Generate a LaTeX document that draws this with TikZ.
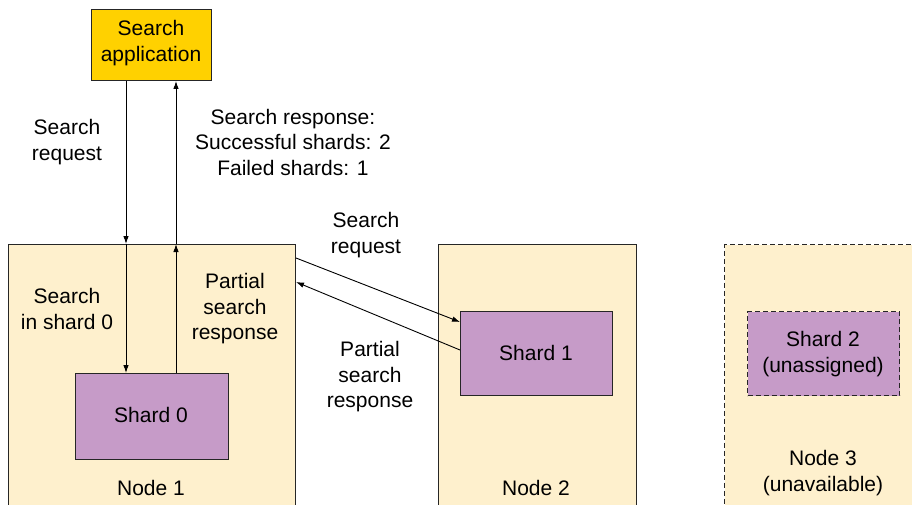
\documentclass[tikz,border=0pt]{standalone}
\usepackage{fontspec}
\setmainfont{Liberation Sans}
\usetikzlibrary{arrows.meta}
\definecolor{appyellow}{HTML}{FFD100}
\definecolor{nodefill}{HTML}{FEF0CD}
\definecolor{shardfill}{HTML}{C69BC8}
\definecolor{edge}{HTML}{262626}
\tikzset{
  box/.style={draw=edge, line width=1pt, inner sep=0pt, anchor=north west},
  hostbox/.style={box, fill=nodefill},
  shardbox/.style={box, fill=shardfill, align=center},
  dashedbox/.style={dash pattern=on 5pt off 3pt, line width=1.1pt},
  lbl/.style={align=center, inner sep=0pt, font=\fontsize{21}{25.5}\selectfont},
  arr/.style={line width=0.9pt, draw=black, -{Latex[length=8pt,width=5.5pt]}}
}
\begin{document}
\begin{tikzpicture}[x=1pt,y=-1pt]
\useasboundingbox (0,0) rectangle (912,505);
\clip (0,0) rectangle (912,505);
% hosts
\node[hostbox, minimum width=287pt, minimum height=290pt] (n1) at (8,244) {};
\node[hostbox, minimum width=198pt, minimum height=290pt] (n2) at (438,244) {};
\node[hostbox, dashedbox, minimum width=200pt, minimum height=290pt] (n3) at (724,244) {};
% application
\node[box, fill=appyellow, minimum width=120pt, minimum height=71pt] (app) at (91,9) {};
\node[lbl] (apptxt) at (151,43) {Search\\application};
% shards
\node[shardbox, minimum width=153pt, minimum height=86pt] (s0) at (75,373) {};
\node[shardbox, minimum width=152pt, minimum height=84pt] (s1) at (460,311) {};
\node[shardbox, dashedbox, minimum width=152pt, minimum height=84pt] (s2) at (747,311) {};
\node[lbl] (s0t) at (151,415) {Shard 0};
\node[lbl] (s1t) at (536,353) {Shard 1};
\node[lbl] (s2t) at (823,354) {Shard 2\\(unassigned)};
\node[lbl] (n1t) at (151,488) {Node 1};
\node[lbl] (n2t) at (536,488) {Node 2};
\node[lbl] (n3t) at (823,473) {Node 3\\(unavailable)};
% labels
\node[lbl] (l1) at (67,142) {Search\\request};
\node[lbl] (l2) at (293,142) {Search response:\\Successful shards: 2\\Failed shards: 1};
\node[lbl] (l3) at (366,235) {Search\\request};
\node[lbl] (l4) at (67,309) {Search\\in shard 0};
\node[lbl] (l5) at (235,309) {Partial\\search\\response};
\node[lbl] (l6) at (370,377) {Partial\\search\\response};
% connector coordinates
\coordinate (a1) at (126,0 |- app.south);
\coordinate (a2) at (126,0 |- n1.north);
\coordinate (a3) at (126,0 |- s0.north);
\coordinate (b1) at (176,0 |- s0.north);
\coordinate (b2) at (176,0 |- n1.north);
\coordinate (b3) at (176,0 |- app.south);
\coordinate (c1) at (n1.east |- 0,258);
\coordinate (c2) at (s1.west |- 0,322);
\coordinate (d1) at (s1.west |- 0,350);
\coordinate (d2) at (n1.east |- 0,282);
% connectors
\draw[arr] (a1) -- (a2);
\draw[arr] (a2) -- (a3);
\draw[arr] (b1) -- (b2);
\draw[arr] (b2) -- (b3);
\draw[arr] (c1) -- (c2);
\draw[arr] (d1) -- (d2);
\end{tikzpicture}
\end{document}
